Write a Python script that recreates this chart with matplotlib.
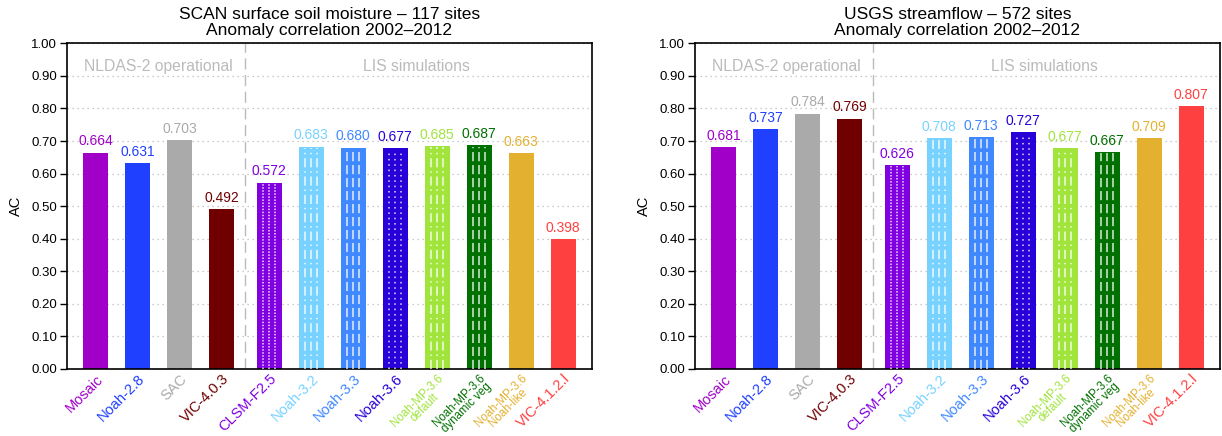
import matplotlib
matplotlib.use("Agg")
import matplotlib.pyplot as plt
import numpy as np

# model names and colours
models = ["Mosaic", "Noah-2.8", "SAC", "VIC-4.0.3", "CLSM-F2.5", "Noah-3.2",
          "Noah-3.3", "Noah-3.6", "Noah-MP-3.6\ndefault",
          "Noah-MP-3.6\ndynamic veg", "Noah-MP-3.6\nNoah-like", "VIC-4.1.2.l"]
colors = ["#A000C8", "#2040FF", "#AAAAAA", "#700000", "#8000E0", "#78D2FF",
          "#4088FF", "#2800D8", "#A0E43C", "#007000", "#E4B030", "#FF4040"]
# white line pattern inside the LIS bars (None = plain bar)
patterns = [None, None, None, None, "dense", "dashdot", "dash", "dot",
            "dashdot", "dash", None, None]

soil_ac = [0.664, 0.631, 0.703, 0.492, 0.572, 0.683, 0.680, 0.677,
           0.685, 0.687, 0.663, 0.398]
flow_ac = [0.681, 0.737, 0.784, 0.769, 0.626, 0.708, 0.713, 0.727,
           0.677, 0.667, 0.709, 0.807]

titles = ["SCAN surface soil moisture \u2013 117 sites\nAnomaly correlation 2002\u20132012",
          "USGS streamflow \u2013 572 sites\nAnomaly correlation 2002\u20132012"]

line_styles = {"dense": (0, (1, 1)), "dashdot": (0, (6, 2.5, 1, 2.5)),
               "dash": (0, (6, 2.5)), "dot": (0, (1, 2.5))}

# operational group at 0..3, LIS group shifted a bit to the right
pos = np.array([0, 1, 2, 3] + [4.135 + k for k in range(8)])
width = 0.6

plt.rcParams["font.family"] = ["Liberation Sans", "DejaVu Sans"]
fig = plt.figure(figsize=(12.22, 4.36), dpi=100)

for i, (vals, title) in enumerate(zip([soil_ac, flow_ac], titles)):
    left = [0.0548, 0.5687][i]
    ax = fig.add_axes([left, 0.1537, 0.4296, 0.747])

    ax.bar(pos, vals, width=width, color=colors, zorder=2)

    # white line fill patterns
    for x, v, p in zip(pos, vals, patterns):
        if p is None:
            continue
        for off in (-0.25, 0, 0.25):
            ax.plot([x + off * width] * 2, [0, v - 0.004], color="white",
                    lw=1.1, alpha=0.85, linestyle=line_styles[p], zorder=3,
                    solid_capstyle="butt", dash_capstyle="butt")

    for x, v, c in zip(pos, vals, colors):
        ax.text(x, v + 0.013, f"{v:.3f}", color=c, ha="center",
                va="bottom", fontsize=10)

    sep = (pos[3] + pos[4]) / 2
    ax.axvline(sep, color="#BBBBBB", lw=1, linestyle=(0, (8, 4)), zorder=1)
    ax.text(pos[:4].mean(), 0.93, "NLDAS-2 operational", color="#BBBBBB",
            ha="center", va="center", fontsize=11.3)
    ax.text(pos[4:].mean(), 0.93, "LIS simulations", color="#BBBBBB",
            ha="center", va="center", fontsize=11.3)

    ax.set_xlim(-0.68, 11.82)
    ax.set_ylim(0, 1)
    ax.set_yticks(np.arange(0, 1.01, 0.1))
    ax.set_yticklabels([f"{t:.2f}" for t in np.arange(0, 1.01, 0.1)],
                       fontsize=9.5)
    ax.yaxis.grid(True, color="#BBBBBB", linestyle=(0, (1, 3)), lw=0.9)
    ax.set_axisbelow(True)
    ax.tick_params(axis="y", direction="out", length=5, width=1, pad=2)
    ax.tick_params(axis="x", length=0)
    ax.set_ylabel("AC", fontsize=10.5, labelpad=6)
    for s in ax.spines.values():
        s.set_linewidth(1.2)

    ax.set_xticks(pos)
    ax.set_xticklabels(models, rotation=45, ha="right",
                       rotation_mode="anchor", multialignment="center",
                       fontsize=10.5)
    for lab, c, name in zip(ax.get_xticklabels(), colors, models):
        lab.set_color(c)
        lab.set_linespacing(0.8)
        if "\n" in name:
            # two-line labels a little smaller so they fit in the figure
            lab.set_fontsize(8.3)
    ax.tick_params(axis="x", pad=2)

    ax.set_title(title, fontsize=12.5, linespacing=1.05, pad=6)

fig.savefig("out.png", dpi=100)
